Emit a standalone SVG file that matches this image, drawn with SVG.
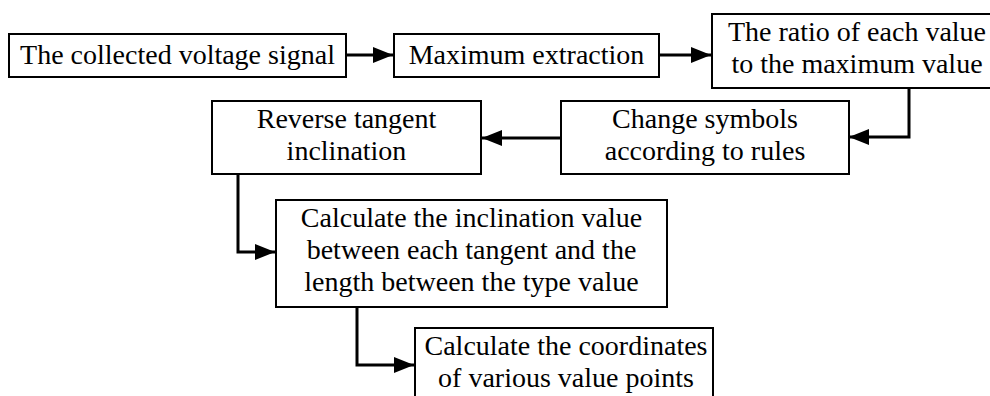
<svg xmlns="http://www.w3.org/2000/svg" width="990" height="396" viewBox="0 0 990 396">
  <style>
    .box { fill: #ffffff; stroke: #000000; stroke-width: 2; }
    .lbl { font-family: "Liberation Serif", "Times New Roman", serif; font-size: 28px; fill: #000000; text-anchor: middle; }
    .wire { fill: none; stroke: #000000; stroke-width: 3; }
  </style>
  <defs>
    <marker id="head" markerUnits="userSpaceOnUse" markerWidth="20" markerHeight="16" refX="20" refY="8" orient="auto">
      <path d="M0,0 L20,8 L0,16 Z" fill="#000000"/>
    </marker>
  </defs>

  <rect width="990" height="396" fill="#ffffff"/>

  <g id="connectors">
    <path class="wire" d="M346,55 L393,55" marker-end="url(#head)"/>
    <path class="wire" d="M659,55 L711,55" marker-end="url(#head)"/>
    <path class="wire" d="M909,88 L909,137 L849,137" marker-end="url(#head)"/>
    <path class="wire" d="M561,138 L482,138" marker-end="url(#head)"/>
    <path class="wire" d="M238,174 L238,252 L275,252" marker-end="url(#head)"/>
    <path class="wire" d="M357,307 L357,365 L414,365" marker-end="url(#head)"/>
  </g>

  <g id="node-signal">
    <rect class="box" x="9" y="34" width="337" height="43"/>
    <text class="lbl" x="177.5" y="64">The collected voltage signal</text>
  </g>

  <g id="node-maximum">
    <rect class="box" x="394" y="34" width="265" height="43"/>
    <text class="lbl" x="526.5" y="64">Maximum extraction</text>
  </g>

  <g id="node-ratio">
    <rect class="box" x="712" y="14" width="290" height="74"/>
    <text class="lbl" x="857" y="41">The ratio of each value</text>
    <text class="lbl" x="857" y="73">to the maximum value</text>
  </g>

  <g id="node-symbols">
    <rect class="box" x="561" y="101" width="288" height="73"/>
    <text class="lbl" x="705" y="128">Change symbols</text>
    <text class="lbl" x="705" y="160">according to rules</text>
  </g>

  <g id="node-reverse">
    <rect class="box" x="212" y="101" width="269" height="73"/>
    <text class="lbl" x="346.5" y="128">Reverse tangent</text>
    <text class="lbl" x="346.5" y="160">inclination</text>
  </g>

  <g id="node-inclination">
    <rect class="box" x="276" y="200" width="391" height="107"/>
    <text class="lbl" x="471.5" y="227">Calculate the inclination value</text>
    <text class="lbl" x="471.5" y="259">between each tangent and the</text>
    <text class="lbl" x="471.5" y="291">length between the type value</text>
  </g>

  <g id="node-coordinates">
    <rect class="box" x="415" y="328" width="298" height="80"/>
    <text class="lbl" x="566" y="355">Calculate the coordinates</text>
    <text class="lbl" x="566" y="387">of various value points</text>
  </g>
</svg>
